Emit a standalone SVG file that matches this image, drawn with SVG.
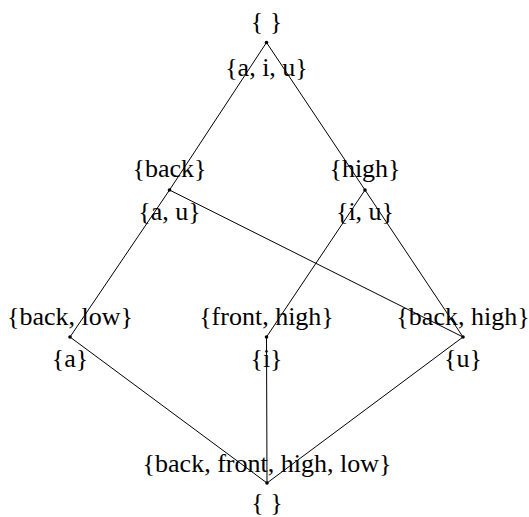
<svg xmlns="http://www.w3.org/2000/svg" width="529" height="517" viewBox="0 0 529 517">
<style>
.e{stroke:#000;stroke-width:1;fill:none}
.d{fill:#000}
text{font-family:"Liberation Serif","Times New Roman",serif;font-size:26px;fill:#000;text-anchor:middle}
</style>
<rect width="529" height="517" fill="#fff"/>
<g id="connectors">
<line class="e" x1="266.5" y1="42.5" x2="169.5" y2="190"/>
<line class="e" x1="266.5" y1="42.5" x2="365" y2="190"/>
<line class="e" x1="169.5" y1="190" x2="70" y2="337"/>
<line class="e" x1="169.5" y1="190" x2="463" y2="337"/>
<line class="e" x1="365" y1="190" x2="266.5" y2="337"/>
<line class="e" x1="365" y1="190" x2="463" y2="337"/>
<line class="e" x1="70" y1="337" x2="267" y2="483"/>
<line class="e" x1="266.5" y1="337" x2="267" y2="483"/>
<line class="e" x1="463" y1="337" x2="267" y2="483"/>
</g>
<g id="n_top"><circle class="d" cx="266.5" cy="42.5" r="1.8"/><text x="266.5" y="30">{ }</text><text x="266.5" y="76">{a, i, u}</text></g>
<g id="n_back"><circle class="d" cx="169.5" cy="190" r="1.8"/><text x="169.5" y="177">{back}</text><text x="169.5" y="220">{a, u}</text></g>
<g id="n_high"><circle class="d" cx="365" cy="190" r="1.8"/><text x="365" y="177">{high}</text><text x="365" y="220">{i, u}</text></g>
<g id="n_backlow"><circle class="d" cx="70" cy="337" r="1.8"/><text x="70" y="325">{back, low}</text><text x="70" y="367">{a}</text></g>
<g id="n_fronthigh"><circle class="d" cx="266.5" cy="337" r="1.8"/><text x="266.5" y="325">{front, high}</text><text x="266.5" y="367">{i}</text></g>
<g id="n_backhigh"><circle class="d" cx="463" cy="337" r="1.8"/><text x="463" y="325">{back, high}</text><text x="463" y="367">{u}</text></g>
<g id="n_bottom"><circle class="d" cx="267" cy="483" r="1.8"/><text x="267" y="472">{back, front, high, low}</text><text x="267" y="511">{ }</text></g>
</svg>
